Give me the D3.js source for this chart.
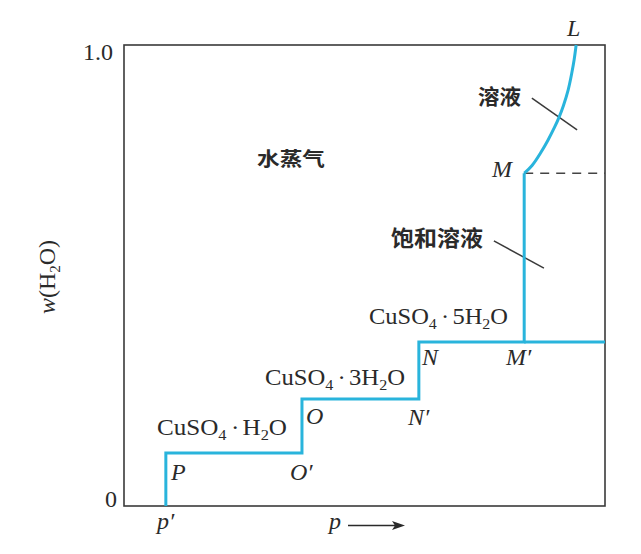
<!DOCTYPE html>
<html><head><meta charset="utf-8">
<script src="https://cdn.jsdelivr.net/npm/d3@7"></script>
<style>
html,body{margin:0;padding:0;background:#fff;}
svg{display:block;}
.serif{font-family:"Liberation Serif","DejaVu Serif",serif;fill:#2a2a2a;}
.cjk{font-family:"Noto Sans CJK SC",sans-serif;fill:#2a2a2a;font-weight:bold;}
</style></head>
<body>
<svg id="c" width="641" height="554"></svg>
<script>
// ---- data ----
const yTickValues = [0, 1];
const yTickLabels = ["0", "1.0"];
// step corners (p', P, O', O, N', N, M', M) in (p, w(H2O)) units
const stepX = [0.087, 0.087, 0.370, 0.370, 0.613, 0.613, 0.832, 0.832];
const stepY = [0.000, 0.115, 0.115, 0.232, 0.232, 0.356, 0.356, 0.722];
// solution curve from M to L
const curveX = [0.832, 0.848, 0.866, 0.882, 0.896, 0.905, 0.913, 0.924, 0.931, 0.936, 0.940];
const curveY = [0.722, 0.736, 0.765, 0.794, 0.823, 0.844, 0.866, 0.902, 0.939, 0.967, 1.000];
// M'-> right edge, M -> right edge dashed
const mPrimeLine = {x: [0.832, 1.0], y: [0.356, 0.356]};
const mDashLine  = {x: [0.832, 1.0], y: [0.722, 0.722]};
// leader lines
const leaders = [
  {x: [0.848, 0.942], y: [0.885, 0.816]},
  {x: [0.769, 0.873], y: [0.575, 0.516]}
];

const svg = d3.select("#c");
const x = d3.scaleLinear().domain([0, 1]).range([124, 605]);
const y = d3.scaleLinear().domain([0, 1]).range([506, 45]);
const cyan = "#29b4dc";

// frame
svg.append("rect").attr("x", x(0)).attr("y", y(1))
  .attr("width", x(1) - x(0)).attr("height", y(0) - y(1))
  .attr("fill", "none").attr("stroke", "#3a3a3a").attr("stroke-width", 1.6);

// y tick labels
yTickValues.forEach((v, i) => {
  svg.append("text").attr("class", "serif")
    .attr("x", v === 1 ? 113 : 117).attr("y", y(v) + (v === 1 ? 15 : 1))
    .attr("text-anchor", "end").attr("font-size", 24)
    .text(yTickLabels[i]);
});

const line = d3.line().x(d => x(d[0])).y(d => y(d[1]));

// dashed line
svg.append("path").datum(d3.zip(mDashLine.x, mDashLine.y))
  .attr("d", line).attr("fill", "none").attr("stroke", "#444")
  .attr("stroke-width", 1.5).attr("stroke-dasharray", "9,7");

// leaders
leaders.forEach(l => {
  svg.append("path").datum(d3.zip(l.x, l.y)).attr("d", line)
    .attr("fill", "none").attr("stroke", "#3a3a3a").attr("stroke-width", 1.5);
});

// cyan lines
svg.append("path").datum(d3.zip(stepX, stepY)).attr("d", line)
  .attr("fill", "none").attr("stroke", cyan).attr("stroke-width", 3)
  .attr("stroke-linejoin", "miter");
svg.append("path").datum(d3.zip(mPrimeLine.x, mPrimeLine.y)).attr("d", line)
  .attr("fill", "none").attr("stroke", cyan).attr("stroke-width", 3);
svg.append("path").datum(d3.zip(curveX, curveY))
  .attr("d", d3.line().x(d => x(d[0])).y(d => y(d[1])).curve(d3.curveBasis))
  .attr("fill", "none").attr("stroke", cyan).attr("stroke-width", 3);

// italic point labels
const ptLabels = [
  {t: "P", x: 171, y: 480}, {t: "O\u2032", x: 290, y: 480},
  {t: "O", x: 306, y: 424}, {t: "N\u2032", x: 408, y: 425},
  {t: "N", x: 422, y: 365}, {t: "M\u2032", x: 506, y: 365},
  {t: "M", x: 492, y: 177}, {t: "L", x: 567, y: 36},
  {t: "p\u2032", x: 157, y: 529}, {t: "p", x: 329, y: 529}
];
ptLabels.forEach(d => {
  svg.append("text").attr("class", "serif").attr("font-style", "italic")
    .attr("font-size", 24).attr("x", d.x).attr("y", d.y).text(d.t);
});
// arrow
svg.append("line").attr("x1", 348).attr("x2", 398).attr("y1", 525.5).attr("y2", 525.5)
  .attr("stroke", "#2a2a2a").attr("stroke-width", 1.5);
svg.append("path").attr("d", "M405,525.5 L392,521 L395,525.5 L392,530 Z").attr("fill", "#2a2a2a");

// formula labels
function formula(xp, yp, coef, w) {
  const t = svg.append("text").attr("class", "serif").attr("font-size", 23)
    .attr("x", xp).attr("y", yp)
    .attr("textLength", w).attr("lengthAdjust", "spacingAndGlyphs");
  t.append("tspan").text("CuSO");
  t.append("tspan").attr("font-size", 15).attr("dy", 5).text("4");
  t.append("tspan").attr("dy", -5).attr("dx", 4).text("\u00b7");
  t.append("tspan").attr("dx", 3).text(coef + "H");
  t.append("tspan").attr("font-size", 15).attr("dy", 5).text("2");
  t.append("tspan").attr("dy", -5).text("O");
}
formula(157, 435, "", 130);
formula(265, 385, "3", 140);
formula(369, 324, "5", 139);

// CJK labels
svg.append("text").attr("class", "cjk").attr("font-size", 19)
  .attr("x", 257).attr("y", 166).attr("textLength", 68)
  .attr("lengthAdjust", "spacingAndGlyphs").text("水蒸气");
svg.append("text").attr("class", "cjk").attr("font-size", 21)
  .attr("x", 478).attr("y", 104).attr("textLength", 43)
  .attr("lengthAdjust", "spacingAndGlyphs").text("溶液");
svg.append("text").attr("class", "cjk").attr("font-size", 22)
  .attr("x", 391).attr("y", 246).attr("textLength", 92)
  .attr("lengthAdjust", "spacingAndGlyphs").text("饱和溶液");

// y axis title
const yt = svg.append("text").attr("class", "serif").attr("font-size", 24)
  .attr("text-anchor", "middle")
  .attr("transform", "translate(55,277) rotate(-90)");
yt.append("tspan").attr("font-style", "italic").text("w");
yt.append("tspan").text("(H");
yt.append("tspan").attr("font-size", 15).attr("dy", 5).text("2");
yt.append("tspan").attr("dy", -5).text("O)");
</script>
</body></html>
